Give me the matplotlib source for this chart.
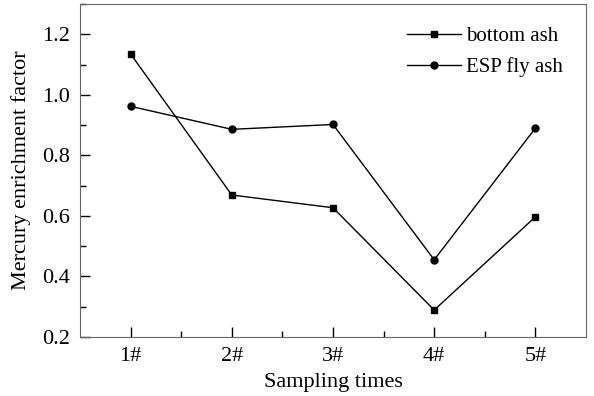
import numpy as np
import matplotlib.pyplot as plt
from matplotlib.ticker import MultipleLocator

plt.rcParams['font.family'] = ['Liberation Serif', 'DejaVu Serif']

samples = ["1#", "2#", "3#", "4#", "5#"]
bottom_ash = [1.135, 0.669, 0.627, 0.289, 0.597]
esp_fly_ash = [0.962, 0.886, 0.902, 0.455, 0.890]

x = np.arange(1, len(samples) + 1)

fig = plt.figure(figsize=(5.94, 3.96), dpi=100)
ax = fig.add_axes([80 / 594, 59 / 396, 506 / 594, 333 / 396])

ax.plot(x, bottom_ash, color="black", lw=1, marker="s", ms=4.5, label="bottom ash")
ax.plot(x, esp_fly_ash, color="black", lw=1, marker="o", ms=5, label="ESP fly ash")

ax.set_xlim(0.5, 5.5)
ax.set_ylim(0.2, 1.3)
ax.set_xticks(x)
ax.set_xticklabels(samples)
ax.xaxis.set_minor_locator(plt.FixedLocator(np.arange(1.5, 5, 1)))
ax.yaxis.set_major_locator(MultipleLocator(0.2))
ax.yaxis.set_minor_locator(MultipleLocator(0.1))
ax.yaxis.set_major_formatter(plt.FormatStrFormatter("%.1f"))

ax.tick_params(which="both", direction="in", top=False, right=False, labelsize=16, pad=7)
ax.tick_params(which="major", length=7, width=1)
ax.tick_params(which="minor", length=4, width=1)
for s in ax.spines.values():
    s.set_color("#666666")

ax.set_xlabel("Sampling times", fontsize=16, labelpad=5)
ax.set_ylabel("Mercury enrichment factor", fontsize=16, labelpad=8)

ax.legend(loc="upper right", frameon=False, fontsize=15, handlelength=2.6,
          borderaxespad=0.7, labelspacing=0.5, handletextpad=0.25)

fig.savefig("out.png")
